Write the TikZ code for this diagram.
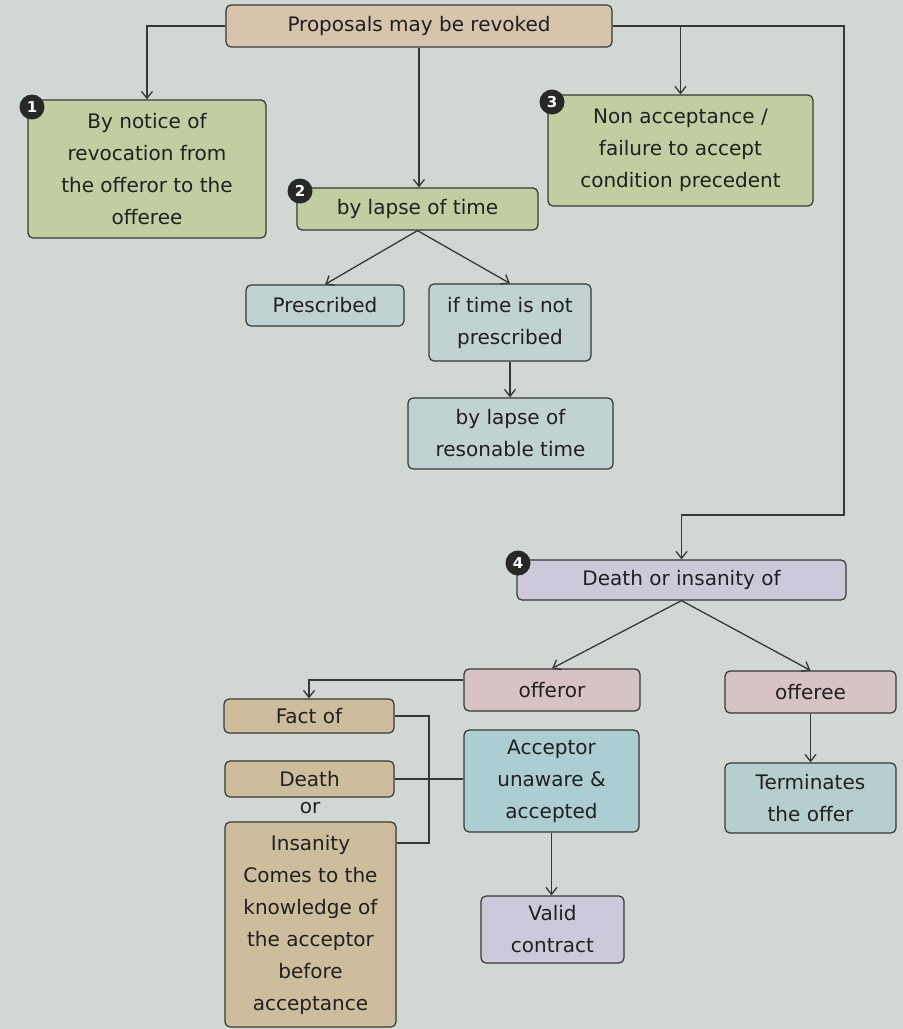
\documentclass[tikz,border=0pt]{standalone}
\usepackage{fontspec}
\setmainfont{DejaVu Sans}
\usetikzlibrary{arrows.meta}

\definecolor{pagebg}{RGB}{209,216,212}
\definecolor{edge}{RGB}{55,55,55}
\definecolor{ink}{RGB}{32,32,32}
\definecolor{headtan}{RGB}{214,196,172}
\definecolor{leafgreen}{RGB}{192,206,162}
\definecolor{steel}{RGB}{194,209,209}
\definecolor{lilac}{RGB}{205,201,218}
\definecolor{rose}{RGB}{215,195,198}
\definecolor{sand}{RGB}{206,189,157}
\definecolor{aqua}{RGB}{172,205,210}
\definecolor{teal}{RGB}{182,206,205}
\definecolor{badgefill}{RGB}{40,40,40}

\tikzset{
  box/.style={draw=edge, line width=1.2pt, rounded corners=5pt, align=center,
    inner sep=0pt, text=ink, font=\fontsize{20}{32}\selectfont},
  badge/.style={circle, fill=badgefill, text=white, minimum size=25pt,
    inner sep=0pt, font=\fontsize{15}{15}\selectfont\bfseries},
}

\begin{document}
\begin{tikzpicture}[x=1pt, y=-1pt, line width=1.3pt, draw=edge,
    >={Straight Barb[length=7pt,width=11pt]}]
  \fill[pagebg] (0,0) rectangle (903,1029);
  \useasboundingbox (0,0) rectangle (903,1029);

  % top of the tree
  \node[box, fill=headtan, minimum width=386pt, minimum height=42pt] (prop) at (419,26) {Proposals may be revoked};

  % the four ways
  \node[box, fill=leafgreen, minimum width=238pt, minimum height=138pt] (notice) at (147,169)
    {By notice of\\revocation from\\the offeror to the\\offeree};
  \node[box, fill=leafgreen, minimum width=241pt, minimum height=42pt] (lapse) at (417.5,209) {by lapse of time};
  \node[box, fill=leafgreen, minimum width=265pt, minimum height=111pt] (nonacc) at (680.5,150.5)
    {Non acceptance /\\failure to accept\\condition precedent};
  \node[box, fill=lilac, minimum width=329pt, minimum height=40pt] (death) at (681.5,580) {Death or insanity of};

  % lapse of time
  \node[box, fill=steel, minimum width=158pt, minimum height=41pt] (prescr) at (325,305.5) {Prescribed};
  \node[box, fill=steel, minimum width=162pt, minimum height=77pt] (notpre) at (510,322.5) {if time is not\\prescribed};
  \node[box, fill=steel, minimum width=205pt, minimum height=71pt] (reason) at (510.5,433.5) {by lapse of\\resonable time};

  % death or insanity
  \node[box, fill=rose, minimum width=176pt, minimum height=42pt] (offeror) at (552,690) {offeror};
  \node[box, fill=rose, minimum width=171pt, minimum height=42pt] (offeree) at (810.5,692) {offeree};
  \node[box, fill=teal, minimum width=171pt, minimum height=70pt] (termin) at (810.5,798) {Terminates\\the offer};
  \node[box, fill=sand, minimum width=170pt, minimum height=34pt] (fact) at (309,716) {Fact of};
  \node[box, fill=sand, minimum width=169pt, minimum height=36pt] (deathb) at (309.5,779) {Death};
  \node[text=ink, font=\fontsize{20}{32}\selectfont] (orlab) at (310,808) {or};
  \node[box, fill=sand, minimum width=171pt, minimum height=205pt] (insan) at (310.5,924.5)
    {Insanity\\Comes to the\\knowledge of\\the acceptor\\before\\acceptance};
  \node[box, fill=aqua, minimum width=175pt, minimum height=102pt] (accept) at (551.5,781) {Acceptor\\unaware \&\\accepted};
  \node[box, fill=lilac, minimum width=143pt, minimum height=67pt] (valid) at (552.5,929.5) {Valid\\contract};

  % numbers
  \node[badge] (b1) at (32,107) {1};
  \node[badge] (b2) at (300,191) {2};
  \node[badge] (b3) at (552,102) {3};
  \node[badge] (b4) at (518,563) {4};

  % connectors
  \coordinate (bend) at (844,515);
  \coordinate (brk) at (429,843);
  \draw[->] (prop.west) -| (notice.north);
  \draw[->] (prop.south) -- (prop.south |- lapse.north);
  \draw[->] (prop.east) -| (nonacc.north);
  \draw[->] (prop.east) -| (bend) -| (death.north);
  \draw[->] (lapse.south) -- (prescr.north);
  \draw[->] (lapse.south) -- (notpre.north);
  \draw[->] (notpre.south) -- (notpre.south |- reason.north);
  \draw[->] (death.south) -- (offeror.north);
  \draw[->] (death.south) -- (offeree.north);
  \draw[->] (offeree) -- (termin);
  \draw[->] ([yshift=10pt]offeror.west) -| (fact.north);
  \draw (fact.east) -| (brk) -- (brk -| insan.east);
  \draw (deathb.east) -- (deathb.east -| accept.west);
  \draw[->] (accept.south) -- (accept.south |- valid.north);
\end{tikzpicture}
\end{document}
